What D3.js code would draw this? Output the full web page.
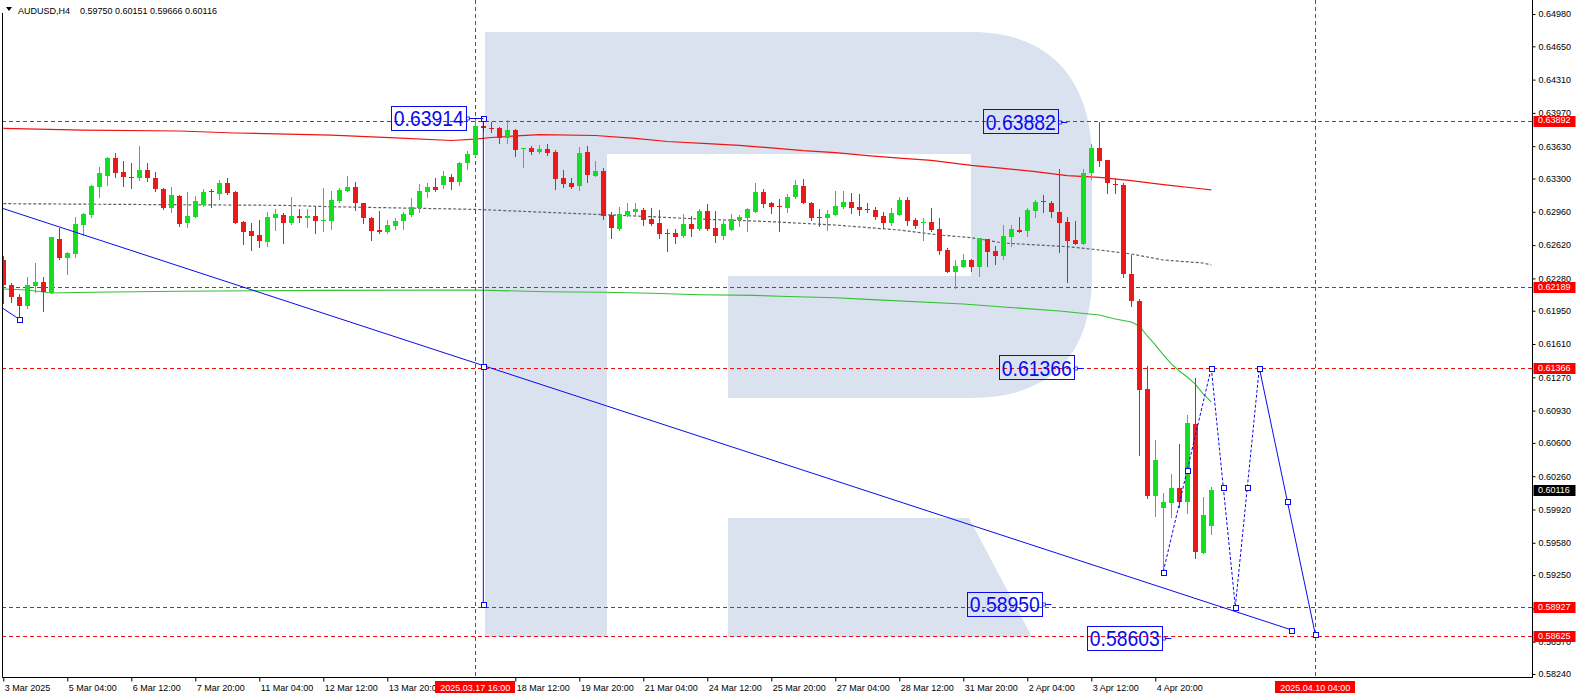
<!DOCTYPE html>
<html><head><meta charset="utf-8">
<script src="https://cdn.jsdelivr.net/npm/d3@7"></script>
<style>html,body{margin:0;padding:0;background:#fff;overflow:hidden}svg{display:block}</style>
</head><body><svg id="c" width="1578" height="698"></svg>
<script>
// ---------- DATA ----------
const symbol = "AUDUSD,H4";
const barOpen = [.62468,.62213,.62094,.62002,.62203,.62247,.62134,.62683,.62492,.62527,
.62826,.62928,.63217,.63329,.63507,.63370,.63316,.63309,.63387,.63303,
.63190,.63002,.63125,.62843,.62910,.63030,.63168,.63142,.63258,.63166,
.62859,.62765,.62724,.62649,.62900,.62928,.62849,.62918,.62900,.62918,
.62874,.62870,.63074,.63176,.63217,.63047,.62900,.62775,.62757,.62815,
.62870,.62928,.62996,.63166,.63211,.63234,.63313,.63268,.63456,.63540,
.63836,.63816,.63819,.63711,.63796,.63599,.63609,.63568,.63599,.63568,
.63303,.63252,.63224,.63568,.63326,.63377,.62928,.62785,.62928,.62962,
.62979,.62887,.62843,.62744,.62741,.62713,.62836,.62785,.62969,.62798,
.62713,.62775,.62877,.62900,.62962,.63166,.63053,.63020,.63002,.63109,
.63224,.63053,.62907,.62900,.62928,.63006,.63064,.63013,.62991,.62979,
.62918,.62843,.62928,.63081,.62877,.62849,.62859,.62785,.62571,.62349,
.62400,.62468,.62400,.62680,.62560,.62509,.62706,.62775,.62765,.62969,
.63071,.63047,.62955,.62853,.62673,.62632,.63354,.63609,.63489,.63244,
.63234,.62325,.62050,.61148,.60062,.59939,.59990,.60138,.60001,.60794,
.59479,.59750];
const barHigh = [.62509,.62237,.62121,.62298,.62441,.62298,.62706,.62792,.62553,.62904,
.62945,.63234,.63421,.63523,.63564,.63479,.63462,.63635,.63456,.63370,
.63201,.63211,.63132,.63166,.63122,.63190,.63193,.63285,.63303,.63176,
.62870,.62843,.62877,.62962,.62986,.62945,.63115,.62989,.62989,.63006,
.63201,.63176,.63201,.63326,.63268,.63053,.62910,.62969,.62877,.62894,
.62955,.63098,.63244,.63252,.63303,.63380,.63346,.63472,.63584,.63898,
.63914,.63880,.63829,.63898,.63806,.63615,.63632,.63642,.63653,.63592,
.63387,.63303,.63625,.63632,.63479,.63405,.62955,.63013,.63047,.63047,
.63002,.63002,.62979,.62785,.62782,.62938,.62918,.62989,.63040,.62969,
.62870,.62938,.62928,.62996,.63252,.63193,.63061,.63088,.63142,.63285,
.63295,.63061,.62989,.62979,.63176,.63176,.63155,.63142,.63053,.63006,
.62962,.62996,.63115,.63115,.62900,.62894,.63002,.62894,.62594,.62468,
.62530,.62473,.62693,.62683,.62614,.62826,.62826,.62904,.62996,.63081,
.63132,.63071,.63397,.62904,.62870,.63397,.63653,.63882,.63494,.63303,
.63252,.62519,.62067,.61386,.60631,.60086,.60284,.60590,.60885,.61267,
.60052,.60151];
const barLow = [.62029,.62043,.61873,.61975,.62145,.61951,.62128,.62479,.62325,.62502,
.62724,.62910,.63115,.63234,.63319,.63224,.63207,.63285,.63275,.63176,
.62986,.62955,.62815,.62808,.62904,.63020,.63006,.63091,.63142,.62843,
.62632,.62571,.62604,.62614,.62775,.62639,.62836,.62853,.62802,.62741,
.62765,.62785,.63064,.63168,.62979,.62843,.62673,.62747,.62741,.62785,
.62782,.62918,.62955,.63115,.63176,.63201,.63190,.63234,.63397,.63533,
.63785,.63778,.63660,.63660,.63530,.63421,.63548,.63558,.63540,.63193,
.63217,.63207,.63183,.63268,.63323,.62887,.62696,.62775,.62921,.62928,
.62826,.62826,.62696,.62560,.62645,.62706,.62716,.62779,.62779,.62655,
.62683,.62770,.62815,.62768,.62958,.63013,.62945,.62768,.62962,.63098,
.63047,.62877,.62815,.62775,.62925,.62996,.62945,.62928,.62962,.62887,
.62792,.62826,.62925,.62826,.62792,.62673,.62768,.62530,.62343,.62180,
.62394,.62359,.62308,.62410,.62428,.62479,.62614,.62751,.62716,.62904,
.62962,.62904,.62553,.62247,.62627,.62627,.63295,.63431,.63149,.63149,
.62292,.62002,.60477,.60035,.59858,.59286,.59848,.59950,.59882,.59429,
.59471,.59666];
const barClose = [.62213,.62088,.62002,.62213,.62247,.62139,.62700,.62492,.62543,.62836,
.62935,.63224,.63354,.63513,.63360,.63319,.63310,.63387,.63309,.63190,
.62996,.63132,.62833,.62918,.63071,.63166,.63163,.63258,.63155,.62849,
.62757,.62716,.62662,.62910,.62938,.62849,.62918,.62900,.62918,.62870,
.62879,.63081,.63183,.63217,.63047,.62894,.62768,.62757,.62826,.62870,
.62938,.63006,.63176,.63211,.63183,.63326,.63268,.63462,.63551,.63836,
.63813,.63810,.63717,.63796,.63592,.63609,.63568,.63599,.63558,.63295,
.63244,.63217,.63564,.63336,.63377,.62921,.62798,.62938,.62969,.62989,
.62877,.62836,.62734,.62738,.62700,.62836,.62785,.62969,.62785,.62713,
.62833,.62887,.62910,.62986,.63166,.63040,.63013,.63006,.63115,.63234,
.63053,.62900,.62901,.62938,.63020,.63064,.62996,.62979,.62986,.62904,
.62849,.62945,.63081,.62870,.62815,.62859,.62775,.62563,.62349,.62407,
.62468,.62400,.62690,.62553,.62512,.62713,.62785,.62757,.62979,.63064,
.63057,.62955,.62843,.62665,.62632,.63354,.63615,.63482,.63252,.63238,
.62322,.62053,.61141,.60059,.60426,.59995,.60138,.60001,.60807,.59490,
.59865,.60116];

// moving averages (bar index, value)
const maRedIdx = [0,10,22,29,41,49,56,59,61,67,74,79,83,88,92,96,100,104,108,112,116,121,125,129,133,137,141,145,150,151];
const maRedVal = [.63813,.63795,.63785,.63765,.63744,.63714,.63688,.63703,.63719,.63749,.63739,.63709,.63678,.63656,.63639,.63612,.63584,.63564,.63533,.63509,.63486,.63435,.63404,.63370,.63329,.63312,.63278,.63237,.63193,.63183];
const maGrayIdx = [0,35,41,59,66,74,81,87,96,104,112,117,121,125,133,137,141,145,150,151];
const maGrayVal = [.63043,.63026,.63012,.62985,.62961,.62934,.62910,.62886,.62859,.62825,.62774,.62723,.62696,.62641,.62604,.62570,.62529,.62468,.62437,.62417];
const maGreenIdx = [0,3,6,11,22,40,59,68,75,81,87,94,97,104,108,120,125,132,137,139,141,142,143,144,145,146,147,148,149,150,151];
const maGreenVal = [.62172,.62161,.62131,.62138,.62149,.62158,.62161,.62144,.62138,.62128,.62113,.62107,.62097,.62083,.62066,.62018,.61988,.61947,.61906,.61865,.61835,.61794,.61692,.61600,.61498,.61406,.61334,.61273,.61201,.61099,.61018];

// axis ticks
const priceTicks = [0.64980,0.64650,0.64310,0.63970,0.63630,0.63300,0.62960,0.62620,0.62280,0.61950,0.61610,0.61270,0.60930,0.60600,0.60260,0.59920,0.59580,0.59250,0.58910,0.58570,0.58240];
const timeTickIdx = [0,8,16,24,32,40,48,64,72,80,88,96,104,112,120,128,136,144];
const timeTickLabels = ["3 Mar 2025","5 Mar 04:00","6 Mar 12:00","7 Mar 20:00","11 Mar 04:00","12 Mar 12:00","13 Mar 20:00","18 Mar 12:00","19 Mar 20:00","21 Mar 04:00","24 Mar 12:00","25 Mar 20:00","27 Mar 04:00","28 Mar 12:00","31 Mar 20:00","2 Apr 04:00","3 Apr 12:00","4 Apr 20:00"];

// horizontal / vertical levels
const levelPrices = [0.63892, 0.62189, 0.61366, 0.58927, 0.58625];
const vLineIdx = [59, 164];
const vLineLabels = ["2025.03.17 16:00", "2025.04.10 04:00"];

// blue drawing objects (bar index, price)
const trendLong = [[-41, 0.64088], [161, 0.58691]];
const trendShort = [[-5, 0.62241], [2, 0.61863]];
const vertLine = [[60, 0.63914], [60, 0.58950]];
const zigDotted = [[145, 0.59286], [151, 0.61366], [154, 0.58927], [157, 0.61366]];
const zigSolid = [[157, 0.61366], [164, 0.58645]];
const noteText = ["0.63914", "0.63882", "0.61366", "0.58950", "0.58603"];
const noteIdx = [59, 133, 135, 131, 146];
const notePrice = [0.63914, 0.63882, 0.61366, 0.58950, 0.58603];

// ---------- DRAW ----------
const FONT = "'Liberation Sans', Arial, sans-serif";
const RED = "#ea1a1a", GREEN = "#12de22", BLUE = "#0a0af0";
const svg = d3.select("#c").attr("font-family", FONT);
const L = 2, R = 1532, B = 677;
const xS = d3.scaleLinear().domain([0, 164]).range([3.3, 1315.3]);
const yS = d3.scaleLinear().domain([0.58240, 0.64980]).range([674, 14]);
const px = v => Math.round(v) + 0.5;

svg.append("rect").attr("width", 1578).attr("height", 698).attr("fill", "#fff");
svg.append("defs").append("clipPath").attr("id", "clip")
  .append("rect").attr("x", L + 1).attr("y", 0).attr("width", R - L - 1).attr("height", B);
const plot = svg.append("g").attr("clip-path", "url(#clip)");

// watermark logo
plot.append("path")
  .attr("d", "M485,32H971C1055,32 1092,85 1092,160V275C1092,350 1055,398 971,398H728V276H971V154H607V637H485Z M728,518H969L1032,637H728Z")
  .attr("fill", "#d9e2ee");

// levels
plot.selectAll(".lvl").data(levelPrices).join("line")
  .attr("x1", L).attr("x2", R).attr("y1", d => px(yS(d))).attr("y2", d => px(yS(d)))
  .attr("stroke", "#f01010").attr("stroke-dasharray", "4,3").attr("stroke-width", 1);
plot.selectAll(".vl").data(vLineIdx).join("line")
  .attr("x1", d => px(xS(d))).attr("x2", d => px(xS(d))).attr("y1", 0).attr("y2", B)
  .attr("stroke", "#f01010").attr("stroke-dasharray", "4,3").attr("stroke-width", 1);

// moving averages
const lineGen = d3.line().x(d => xS(d[0])).y(d => yS(d[1]));
const zip = (a, b) => a.map((v, k) => [v, b[k]]);
plot.append("path").attr("d", lineGen(zip(maGreenIdx, maGreenVal))).attr("fill", "none").attr("stroke", "#34c034").attr("stroke-width", 1.1);
plot.append("path").attr("d", lineGen(zip(maGrayIdx, maGrayVal))).attr("fill", "none").attr("stroke", "#606060").attr("stroke-width", 1.2).attr("stroke-dasharray", "3,2");
plot.append("path").attr("d", lineGen(zip(maRedIdx, maRedVal))).attr("fill", "none").attr("stroke", "#ee1414").attr("stroke-width", 1.2);

// candles
const bars = d3.range(barOpen.length);
const cg = plot.append("g").attr("shape-rendering", "crispEdges");
cg.selectAll(".wick").data(bars).join("line")
  .attr("x1", i => px(xS(i))).attr("x2", i => px(xS(i)))
  .attr("y1", i => Math.round(yS(barHigh[i]))).attr("y2", i => Math.round(yS(barLow[i])) + 1)
  .attr("stroke", i => barClose[i] >= barOpen[i] ? GREEN : RED);
cg.selectAll(".body").data(bars).join("rect")
  .attr("x", i => Math.round(xS(i)) - 2).attr("width", 5)
  .attr("y", i => Math.round(yS(Math.max(barOpen[i], barClose[i]))))
  .attr("height", i => Math.max(1, Math.round(yS(Math.min(barOpen[i], barClose[i]))) - Math.round(yS(Math.max(barOpen[i], barClose[i])))))
  .attr("fill", i => barClose[i] >= barOpen[i] ? GREEN : RED);

// blue objects
const bl = plot.append("g");
const drawLine = (pts, dash) => bl.append("path").attr("d", lineGen(pts)).attr("fill", "none")
  .attr("stroke", BLUE).attr("stroke-width", 1).attr("stroke-dasharray", dash || null);
drawLine(trendLong); drawLine(trendShort); drawLine(vertLine);
for (let k = 0; k < zigDotted.length - 1; k++) drawLine([zigDotted[k], zigDotted[k + 1]], "3,2");
drawLine(zigSolid);
const sq = [];
sq.push(trendLong[1], [(trendLong[0][0] + trendLong[1][0]) / 2, (trendLong[0][1] + trendLong[1][1]) / 2]);
sq.push(trendShort[1], vertLine[0], vertLine[1]);
zigDotted.forEach((p, k) => { sq.push(p); if (k < zigDotted.length - 1) sq.push([(p[0] + zigDotted[k + 1][0]) / 2, (p[1] + zigDotted[k + 1][1]) / 2]); });
sq.push(zigSolid[1], [(zigSolid[0][0] + zigSolid[1][0]) / 2, (zigSolid[0][1] + zigSolid[1][1]) / 2]);
bl.selectAll(".sq").data(sq).join("rect")
  .attr("x", d => Math.round(xS(d[0])) - 2).attr("y", d => Math.round(yS(d[1])) - 2)
  .attr("width", 5).attr("height", 5).attr("fill", "#fff").attr("stroke", BLUE).attr("stroke-width", 1)
  .attr("shape-rendering", "crispEdges");

// blue price notes
noteText.forEach((t, k) => {
  const ax = xS(noteIdx[k]), ay = yS(notePrice[k]);
  const right = ax - 9;
  const g = svg.append("g");
  g.append("line").attr("x1", right).attr("x2", noteIdx[k] === 59 ? xS(60) : ax).attr("y1", px(ay)).attr("y2", px(ay)).attr("stroke", BLUE);
  g.append("rect").attr("x", right).attr("y", Math.round(ay) - 1).attr("width", 3).attr("height", 3).attr("fill", "#fff").attr("stroke", BLUE).attr("stroke-width", 0.8);
  g.append("rect").attr("x", Math.round(right - 75) + 0.5).attr("y", Math.round(ay - 12.5) + 0.5).attr("width", 75).attr("height", 24)
    .attr("fill", "none").attr("stroke", BLUE).attr("stroke-width", 1);
  g.append("text").attr("x", right - 72.5).attr("y", ay + 8).attr("font-size", 22)
    .attr("textLength", 70).attr("lengthAdjust", "spacingAndGlyphs").attr("fill", BLUE).text(t);
});

// header
svg.append("rect").attr("x", 0).attr("y", 0).attr("width", 226).attr("height", 13).attr("fill", "#fff");
svg.append("path").attr("d", "M6,7H12L9,11Z").attr("fill", "#000");
const f5 = d3.format(".5f");
const last = barOpen.length - 1;
svg.append("text").attr("x", 18).attr("y", 13.5).attr("font-size", 9).attr("fill", "#000").text(symbol);
svg.append("text").attr("x", 80).attr("y", 13.5).attr("font-size", 9).attr("fill", "#000")
  .text([barOpen[last], barHigh[last], barLow[last], barClose[last]].map(f5).join(" "));

// frame
const fr = svg.append("g").attr("stroke", "#000").attr("shape-rendering", "crispEdges");
fr.append("line").attr("x1", L + 0.5).attr("x2", L + 0.5).attr("y1", 13).attr("y2", B + 0.5);
fr.append("line").attr("x1", R + 0.5).attr("x2", R + 0.5).attr("y1", 0).attr("y2", B + 0.5);
fr.append("line").attr("x1", L).attr("x2", R + 1).attr("y1", B + 0.5).attr("y2", B + 0.5);

// price axis
const ya = svg.append("g").attr("transform", `translate(${R + 0.5},0)`)
  .call(d3.axisRight(yS).tickValues(priceTicks).tickSize(3).tickSizeOuter(0).tickPadding(3).tickFormat(f5));
ya.select(".domain").remove();
ya.selectAll("line").attr("stroke", "#000");
ya.selectAll("text").attr("font-size", 9).attr("font-family", FONT).attr("fill", "#000");

// time axis
const xa = svg.append("g").attr("transform", `translate(0,${B + 0.5})`)
  .call(d3.axisBottom(xS).tickValues(timeTickIdx).tickSize(4).tickSizeOuter(0).tickPadding(3)
    .tickFormat((d, k) => timeTickLabels[k]));
xa.select(".domain").remove();
xa.selectAll("line").attr("stroke", "#000");
xa.selectAll("text").attr("font-size", 9).attr("font-family", FONT).attr("fill", "#000")
  .attr("text-anchor", "start").attr("x", 1);

// level labels on price axis
levelPrices.forEach(v => {
  const y = yS(v);
  svg.append("rect").attr("x", R + 1.5).attr("y", Math.round(y) - 5).attr("width", 42).attr("height", 11).attr("fill", "#ff0000");
  svg.append("text").attr("x", R + 6).attr("y", y).attr("dy", "0.32em").attr("font-size", 9).attr("fill", "#fff").text(f5(v));
});
{
  const y = yS(barClose[last]);
  svg.append("rect").attr("x", R + 1.5).attr("y", Math.round(y) - 5).attr("width", 42).attr("height", 11).attr("fill", "#000");
  svg.append("text").attr("x", R + 6).attr("y", y).attr("dy", "0.32em").attr("font-size", 9).attr("fill", "#fff").text(f5(barClose[last]));
}
// vertical line labels on time axis
vLineIdx.forEach((d, k) => {
  const x = xS(d);
  svg.append("rect").attr("x", Math.round(x - 40)).attr("y", 681).attr("width", 80).attr("height", 12).attr("fill", "#ff0000");
  svg.append("text").attr("x", x).attr("y", 690.5).attr("text-anchor", "middle").attr("font-size", 9).attr("fill", "#fff").text(vLineLabels[k]);
});
</script>
</body></html>
